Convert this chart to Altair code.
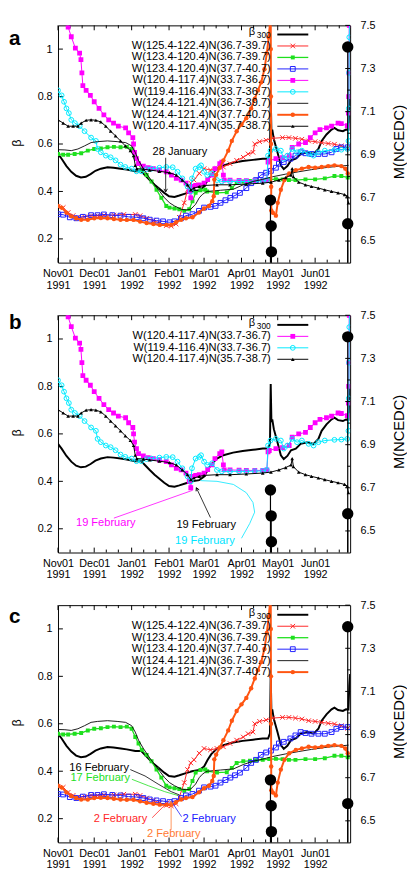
import altair as alt
import pandas as pd

START = pd.Timestamp("1991-11-01")   # day 0 of every day array below
FONT = "Liberation Sans"
W, H = 298, 242

# ---------------- data: days since 1 Nov 1991 and beta values ----------------
B300_DAY = [0, 3, 7, 11, 15, 19, 23, 27, 31, 35.5, 41, 46, 52, 57, 64, 69, 72, 76, 80, 84, 88, 92, 96.5, 100.5, 106, 111, 117, 121, 124, 127, 131.7, 137, 145, 153, 161.5, 169.6, 174, 175.6, 176.2, 176.8, 177.5, 178.8, 181.8, 184.6, 187, 190, 193, 197, 201, 206.6, 211.7, 215.7, 218.4, 222.4, 226.6, 229, 232, 236, 238.6, 240.6, 241.3, 242]
B300_VAL = [0.558, 0.538, 0.507, 0.483, 0.466, 0.459, 0.462, 0.473, 0.487, 0.496, 0.502, 0.500, 0.496, 0.492, 0.485, 0.485, 0.469, 0.448, 0.428, 0.411, 0.394, 0.380, 0.377, 0.383, 0.392, 0.400, 0.405, 0.420, 0.448, 0.472, 0.496, 0.510, 0.521, 0.528, 0.533, 0.538, 0.538, 0.560, 0.810, 0.650, 0.661, 0.620, 0.565, 0.510, 0.494, 0.507, 0.531, 0.538, 0.558, 0.565, 0.558, 0.579, 0.613, 0.640, 0.661, 0.668, 0.658, 0.654, 0.661, 0.660, 0.760, 0.810]

RED_DAY = [0, 4.3, 8.4, 12.5, 16.5, 22, 27.4, 32.8, 38, 46.3, 54.5, 64, 68, 73.4, 79, 84.3, 89.7, 93.8, 97.8, 100.5, 104.6, 107.3, 110, 112.7, 117, 121, 126.3, 131.7, 137, 142.5, 148, 153.5, 157.5, 161.5, 163, 167, 172.4, 177.8, 186, 191.3, 196.7, 202, 207.6, 213, 218.4, 223.8, 229, 234.7, 240]
RED_VAL = [0.336, 0.332, 0.311, 0.298, 0.291, 0.293, 0.298, 0.298, 0.300, 0.300, 0.303, 0.303, 0.298, 0.287, 0.277, 0.267, 0.256, 0.254, 0.263, 0.291, 0.352, 0.407, 0.435, 0.448, 0.476, 0.496, 0.490, 0.496, 0.503, 0.517, 0.531, 0.544, 0.558, 0.565, 0.600, 0.610, 0.616, 0.624, 0.627, 0.627, 0.624, 0.620, 0.613, 0.610, 0.606, 0.602, 0.599, 0.592, 0.581]

GREEN_DAY = [0, 4.3, 8.4, 13.8, 19.2, 24.7, 30, 35.5, 41, 46.3, 51.8, 57, 61, 64, 66.7, 69.4, 73.4, 77.5, 81.6, 85.6, 89.7, 92.4, 96.5, 100.5, 104.6, 108.7, 111.4, 114, 118, 122, 123.6, 131.7, 139.8, 144, 148, 153.5, 159, 164, 169.6, 175, 180.5, 186, 191.3, 196.7, 205, 213, 221, 229, 234.7, 240]
GREEN_VAL = [0.558, 0.555, 0.555, 0.558, 0.561, 0.572, 0.579, 0.581, 0.586, 0.588, 0.586, 0.588, 0.579, 0.544, 0.517, 0.490, 0.469, 0.442, 0.407, 0.373, 0.339, 0.332, 0.328, 0.325, 0.318, 0.325, 0.359, 0.394, 0.405, 0.407, 0.400, 0.394, 0.396, 0.414, 0.435, 0.442, 0.444, 0.446, 0.448, 0.451, 0.452, 0.451, 0.448, 0.448, 0.451, 0.451, 0.455, 0.465, 0.465, 0.459]

BLUE_DAY = [0, 4.3, 9.8, 15.2, 20.6, 27.4, 32.8, 38, 45, 51.8, 58.5, 65.3, 70.7, 76, 81.6, 87, 92.4, 96.5, 101.9, 106, 111.4, 116.8, 121, 126.3, 130.5, 134.6, 138.7, 142.8, 146.6, 150.7, 156, 160, 164, 168, 172.4, 176.4, 180.5, 183, 187, 192.5, 196.7, 201, 205, 210, 215.7, 221, 226.6, 230.6, 234.7, 240]
BLUE_VAL = [0.304, 0.302, 0.291, 0.287, 0.293, 0.300, 0.300, 0.303, 0.300, 0.298, 0.293, 0.291, 0.287, 0.281, 0.277, 0.274, 0.270, 0.274, 0.287, 0.298, 0.304, 0.318, 0.332, 0.335, 0.339, 0.352, 0.363, 0.373, 0.383, 0.394, 0.414, 0.435, 0.448, 0.469, 0.479, 0.487, 0.500, 0.517, 0.524, 0.538, 0.551, 0.565, 0.561, 0.558, 0.558, 0.558, 0.565, 0.579, 0.586, 0.586]

MAG_DAY = [0, 8.4, 11, 14.4, 17.9, 19, 19.8, 20.6, 23.3, 26.8, 30, 34, 38, 42, 46, 50, 56, 58.5, 62, 62.6, 63.4, 65, 66.7, 70.7, 74.8, 79, 84, 89.7, 94, 98, 102, 106, 108.7, 110, 111, 114, 117, 121, 124, 127.6, 130, 134, 135.7, 137, 137.7, 142.5, 150, 156, 163, 169.6, 173, 174, 175, 180.5, 186, 191.5, 194, 199.4, 205, 209, 213, 217, 222.4, 226.6, 232, 234.7, 239.6, 240.6, 240.8, 241, 241.1, 241.3, 241.5]
MAG_VAL = [1.25, 1.093, 1.052, 1.004, 0.983, 0.956, 0.900, 0.846, 0.826, 0.805, 0.778, 0.750, 0.723, 0.702, 0.688, 0.675, 0.668, 0.647, 0.627, 0.600, 0.565, 0.538, 0.517, 0.507, 0.500, 0.496, 0.490, 0.483, 0.469, 0.455, 0.448, 0.435, 0.400, 0.373, 0.421, 0.425, 0.428, 0.435, 0.450, 0.469, 0.496, 0.517, 0.524, 0.469, 0.448, 0.448, 0.447, 0.446, 0.446, 0.446, 0.448, 0.524, 0.530, 0.538, 0.542, 0.551, 0.586, 0.600, 0.606, 0.627, 0.647, 0.661, 0.668, 0.675, 0.688, 0.686, 0.677, 0.730, 0.800, 0.900, 1.000, 1.100, 1.200]

CYAN_DAY = [0, 3, 5, 7, 9, 11, 14, 18, 22, 27.4, 31.4, 32.8, 35.5, 39.6, 43.6, 47.7, 51.8, 55.8, 61, 65, 69, 73.4, 77.5, 84, 89.7, 95, 99, 103, 107.3, 110, 111, 114, 117, 118.5, 121, 123.6, 127.6, 131.7, 135.7, 142.5, 150, 156, 163, 169.6, 173, 174, 176, 180.5, 184.6, 187, 190, 194, 198, 202, 207.6, 211.7, 215.7, 221, 229, 234.7, 239.6, 240.6, 240.9, 241.1, 241.3, 241.6]
CYAN_VAL = [0.826, 0.805, 0.778, 0.750, 0.730, 0.702, 0.688, 0.675, 0.654, 0.627, 0.613, 0.579, 0.565, 0.551, 0.544, 0.531, 0.513, 0.503, 0.496, 0.485, 0.485, 0.494, 0.496, 0.500, 0.503, 0.502, 0.483, 0.455, 0.421, 0.400, 0.455, 0.496, 0.503, 0.510, 0.483, 0.469, 0.476, 0.448, 0.442, 0.442, 0.442, 0.442, 0.443, 0.444, 0.448, 0.551, 0.572, 0.579, 0.572, 0.538, 0.551, 0.579, 0.565, 0.572, 0.558, 0.551, 0.565, 0.572, 0.575, 0.576, 0.579, 0.613, 0.750, 0.900, 1.050, 1.200]

THIN_DAY = [0, 5.7, 11, 16.5, 22, 27.4, 32.8, 41, 49, 56, 61, 64, 66.7, 70.7, 74.8, 79, 84.3, 88.3, 92.4, 96.5, 102, 106, 110, 114, 117, 119.5, 122, 123.6, 134.6, 145.5, 153.4, 161.5, 169.6, 177.8, 188.6, 199.4, 210, 221, 232, 240.7]
THIN_VAL = [0.576, 0.575, 0.572, 0.579, 0.592, 0.606, 0.610, 0.613, 0.610, 0.606, 0.592, 0.565, 0.531, 0.496, 0.465, 0.435, 0.400, 0.373, 0.352, 0.339, 0.325, 0.322, 0.325, 0.346, 0.373, 0.387, 0.396, 0.400, 0.405, 0.410, 0.428, 0.442, 0.451, 0.462, 0.473, 0.483, 0.492, 0.500, 0.506, 0.510]

ORANGE_DAY = [0, 3, 7, 11, 15, 19.2, 24.7, 30, 35.5, 41, 46.3, 51.8, 57, 62.6, 68, 73.4, 79, 84.3, 89.7, 93.8, 97.8, 102, 106, 111.4, 116.8, 121, 125, 127.8, 129, 129.5, 131, 134, 137, 141, 144, 148, 152, 156, 160, 163, 165.6, 168.3, 171, 173, 174.5, 175.6, 176.2, 176.3, 176.4, 176.5, 176.6, 176.7, 178, 180.5, 182, 184.6, 187.5, 191.5, 197, 202, 207.6, 213, 218.4, 223.8, 229, 234.7, 238, 240]
ORANGE_VAL = [0.339, 0.332, 0.311, 0.295, 0.287, 0.281, 0.281, 0.287, 0.288, 0.287, 0.284, 0.281, 0.280, 0.280, 0.273, 0.267, 0.263, 0.259, 0.259, 0.259, 0.270, 0.281, 0.287, 0.291, 0.311, 0.328, 0.339, 0.359, 0.380, 0.450, 0.470, 0.500, 0.531, 0.572, 0.613, 0.654, 0.682, 0.709, 0.750, 0.791, 0.826, 0.860, 0.915, 0.983, 1.050, 1.107, 1.300, 1.000, 0.800, 0.600, 0.420, 0.320, 0.310, 0.298, 0.352, 0.407, 0.448, 0.476, 0.490, 0.496, 0.503, 0.500, 0.503, 0.507, 0.510, 0.507, 0.496, 0.476]

TRI_DAY = [0, 4.3, 8.4, 12.5, 16.5, 19.2, 23.3, 27.4, 31.4, 35.5, 39.6, 43.6, 47.7, 51.8, 55.8, 60, 62.6, 64, 65.3, 70.7, 76, 84, 92.4, 98, 103, 107.3, 110, 112.7, 117, 121, 131.7, 142.5, 156, 169.6, 176.4, 183, 188.6, 193, 194, 195, 199.4, 205, 210, 215.7, 221, 226.6, 232, 237.4, 239.6, 240.6]
TRI_VAL = [0.702, 0.688, 0.675, 0.675, 0.675, 0.688, 0.700, 0.702, 0.700, 0.693, 0.675, 0.654, 0.634, 0.613, 0.592, 0.572, 0.551, 0.510, 0.496, 0.494, 0.490, 0.485, 0.479, 0.469, 0.448, 0.428, 0.407, 0.414, 0.421, 0.425, 0.428, 0.428, 0.431, 0.435, 0.439, 0.448, 0.458, 0.469, 0.496, 0.462, 0.439, 0.428, 0.421, 0.414, 0.407, 0.400, 0.394, 0.387, 0.380, 0.352]

# earthquakes (right axis, magnitude NCEDC)
QUAKE_DAY = [176, 176.6, 176.8, 240, 240]
QUAKE_M = [6.69, 6.57, 6.45, 7.40, 6.58]

# axis ticks
MONTHS = [(1991, 11), (1991, 12), (1992, 1), (1992, 2), (1992, 3), (1992, 4), (1992, 5), (1992, 6)]
BETA_TICKS = [0.2, 0.4, 0.6, 0.8, 1.0]
M_TICKS = [6.5, 6.7, 6.9, 7.1, 7.3, 7.5]
M_MINOR = [6.6, 6.8, 7.0, 7.2, 7.4]

XPATH = "M-1,-1L1,1M-1,1L1,-1"
ARROW = "M-0.55,-1L0,0L0.55,-1"

SERIES = {
    "b300": dict(day=B300_DAY, val=B300_VAL, label=("β", "300"), color="#000000", lw=2.0),
    "red": dict(day=RED_DAY, val=RED_VAL, label="W(125.4-122.4)N(36.7-39.7)", color="#ff2626", lw=1.0,
                shape=XPATH, filled=False, size=22, sw=1.0),
    "green": dict(day=GREEN_DAY, val=GREEN_VAL, label="W(123.4-120.4)N(36.7-39.7)", color="#1ee01e", lw=1.3,
                  shape="square", filled=True, size=16),
    "blue": dict(day=BLUE_DAY, val=BLUE_VAL, label="W(123.4-120.4)N(37.7-40.7)", color="#2020ff", lw=1.0,
                 shape="square", filled=False, size=24, sw=1.0),
    "magenta": dict(day=MAG_DAY, val=MAG_VAL, label="W(120.4-117.4)N(33.7-36.7)", color="#ff00ff", lw=1.0,
                    shape="square", filled=True, size=24),
    "cyan": dict(day=CYAN_DAY, val=CYAN_VAL, label="W(119.4-116.4)N(33.7-36.7)", color="#00eaff", lw=1.0,
                 shape="circle", filled=False, size=24, sw=1.0),
    "thin": dict(day=THIN_DAY, val=THIN_VAL, label="W(124.4-121.4)N(36.7-39.7)", color="#000000", lw=0.9),
    "orange": dict(day=ORANGE_DAY, val=ORANGE_VAL, label="W(124.4-121.4)N(37.7-40.7)", color="#ff5511", lw=2.0,
                   shape="circle", filled=True, size=20),
    "tri": dict(day=TRI_DAY, val=TRI_VAL, label="W(120.4-117.4)N(35.7-38.7)", color="#000000", lw=1.0,
                shape="triangle-up", filled=True, size=14),
}

# annotations: (text, day, beta, colour) and ([(day, beta), ...], colour, arrow angle or None)
ANN_A = dict(texts=[("28 January", 101, 0.567, "#000000")],
             lines=[([(89.2, 0.542), (89.2, 0.398)], "#000000", 0)])
ANN_B = dict(texts=[("19 February", 39.6, 0.223, "#ff00ff"),
                    ("19 February", 122.8, 0.215, "#000000"),
                    ("19 February", 121.7, 0.149, "#00e5ff")],
             lines=[([(46.3, 0.245), (111.4, 0.362)], "#ff00ff", None),
                    ([(126.3, 0.247), (114.6, 0.373)], "#000000", 155),
                    ([(152, 0.16), (158.8, 0.222), (162.9, 0.27), (161.5, 0.311), (156, 0.352),
                      (145.3, 0.387), (131.7, 0.40), (118.1, 0.403)], "#00e5ff", None)])
ANN_C = dict(texts=[("16 February", 34.1, 0.414, "#000000"),
                    ("17 February", 35.0, 0.370, "#1ee01e"),
                    ("2 February", 51.8, 0.198, "#ff2626"),
                    ("2 February", 125.2, 0.198, "#2020ff"),
                    ("2 February", 95.9, 0.136, "#ff7a33")],
             lines=[([(59.9, 0.407), (72.1, 0.38), (82.9, 0.346), (93.7, 0.314), (100.6, 0.30)], "#000000", None),
                    ([(61.2, 0.366), (74.8, 0.339), (88.4, 0.314), (99.2, 0.298)], "#1ee01e", None),
                    ([(78, 0.204), (92.4, 0.277)], "#ff2626", None),
                    ([(102.4, 0.208), (94.3, 0.27)], "#2020ff", None),
                    ([(93.7, 0.153), (93.7, 0.273)], "#ff7a33", 180)])


def dates(days):
    return [START + pd.Timedelta(days=float(d)) for d in days]


X_DOMAIN = [alt.DateTime(year=1991, month=11, date=1), alt.DateTime(year=1992, month=6, date=30)]
X_AXIS = alt.Axis(values=[alt.DateTime(year=y, month=m, date=1) for (y, m) in MONTHS],
                  labelExpr="[timeFormat(datum.value, '%b%d'), timeFormat(datum.value, '%Y')]",
                  tickSize=0, domain=False, grid=False, title=None, labelPadding=5,
                  labelFont=FONT, labelFontSize=11, labelColor="black", labelLineHeight=12,
                  labelOverlap=False, labelFlush=False, labelBound=False)
B_AXIS = alt.Axis(values=BETA_TICKS, format="~g", orient="left", tickSize=0, domain=False, grid=False,
                  title=None, labelPadding=6, labelFont=FONT, labelFontSize=11, labelColor="black")
M_AXIS = alt.Axis(values=M_TICKS, format=".1f", orient="right", tickSize=0, domain=False, grid=False,
                  title=None, labelPadding=10, labelFont=FONT, labelFontSize=11, labelColor="black")


def xenc():
    return alt.X("date:T", scale=alt.Scale(domain=X_DOMAIN), axis=X_AXIS)


def ybeta():
    return alt.Y("beta:Q", scale=alt.Scale(domain=[0.1, 1.1], nice=False, zero=False), axis=B_AXIS)


def ym():
    return alt.Y("m:Q", scale=alt.Scale(domain=[6.4, 7.5], nice=False, zero=False), axis=M_AXIS)


def tick_layers():
    major = pd.DataFrame({"date": [pd.Timestamp(y, m, 1) for (y, m) in MONTHS]})
    minor = pd.DataFrame({"date": [pd.Timestamp(y, m, d) for (y, m) in MONTHS for d in (11, 21)]})
    bt = pd.DataFrame({"beta": BETA_TICKS})
    out = []
    for df, ln in ((major, 5), (minor, 3)):
        out.append(alt.Chart(df).mark_rule(color="black", strokeWidth=1).encode(
            x=xenc(), y=alt.value(H), y2=alt.value(H - ln)))
        out.append(alt.Chart(df).mark_rule(color="black", strokeWidth=1).encode(
            x=xenc(), y=alt.value(0), y2=alt.value(ln)))
    out.append(alt.Chart(bt).mark_rule(color="black", strokeWidth=1).encode(
        y=ybeta(), x=alt.value(0), x2=alt.value(5)))
    return out


def series_layers(key):
    s = SERIES[key]
    df = pd.DataFrame({"date": dates(s["day"]), "beta": s["val"]})
    out = [alt.Chart(df).mark_line(color=s["color"], strokeWidth=s["lw"], clip=True).encode(x=xenc(), y=ybeta())]
    if s.get("shape"):
        out.append(alt.Chart(df).mark_point(shape=s["shape"], filled=s["filled"], size=s["size"], color=s["color"],
                                            strokeWidth=s.get("sw", 1), opacity=1, clip=True)
                   .encode(x=xenc(), y=ybeta()))
    return out


def ann_layers(ann):
    out = []
    for pts, col, head in ann["lines"]:
        df = pd.DataFrame({"date": dates([p[0] for p in pts]), "beta": [p[1] for p in pts], "i": list(range(len(pts)))})
        out.append(alt.Chart(df).mark_line(color=col, strokeWidth=0.8).encode(x=xenc(), y=ybeta(), order="i:Q"))
        if head is not None:
            out.append(alt.Chart(df.iloc[[-1]]).mark_point(shape=ARROW, filled=False, size=40, color=col,
                                                          strokeWidth=0.9, angle=head, opacity=1)
                       .encode(x=xenc(), y=ybeta()))
    for txt, d, b, col in ann["texts"]:
        df = pd.DataFrame({"date": dates([d]), "beta": [b], "t": [txt]})
        out.append(alt.Chart(df).mark_text(font=FONT, fontSize=11.3, color=col, align="center", baseline="middle")
                   .encode(x=xenc(), y=ybeta(), text="t:N"))
    return out


LEG_TX, LEG_X1, LEG_X2 = 217, 223.7, 255.3


def legend_layers(keys, y0):
    yl = alt.Y("row:Q", scale=alt.Scale(domain=[0, 10], range=[y0, y0 + 117]), axis=None)
    out = []
    for i, key in enumerate(keys):
        s = SERIES[key]
        df = pd.DataFrame({"row": [i]})
        if key == "b300":
            out.append(alt.Chart(df).mark_text(text=s["label"][0], font=FONT, fontSize=11.3, align="right",
                                               baseline="middle", dy=-2).encode(x=alt.value(LEG_TX - 16), y=yl))
            out.append(alt.Chart(df).mark_text(text=s["label"][1], font=FONT, fontSize=8.5, align="right",
                                               baseline="middle", dy=1).encode(x=alt.value(LEG_TX), y=yl))
        else:
            out.append(alt.Chart(df).mark_text(text=s["label"], font=FONT, fontSize=11.3, align="right",
                                               baseline="middle").encode(x=alt.value(LEG_TX), y=yl))
        out.append(alt.Chart(df).mark_rule(color=s["color"], strokeWidth=s["lw"]).encode(
            x=alt.value(LEG_X1), x2=alt.value(LEG_X2), y=yl))
        if s.get("shape"):
            out.append(alt.Chart(df).mark_point(shape=s["shape"], filled=s["filled"], size=s["size"],
                                                color=s["color"], strokeWidth=s.get("sw", 1), opacity=1)
                       .encode(x=alt.value((LEG_X1 + LEG_X2) / 2), y=yl))
    return out


def panel(keys, letter, letter_y, leg_y0, ann):
    beta_group = alt.layer(*(tick_layers() + [l for k in keys for l in series_layers(k)] + ann_layers(ann)))

    qdf = pd.DataFrame({"date": dates(QUAKE_DAY), "m": QUAKE_M})
    mt = pd.DataFrame({"m": M_TICKS})
    mm = pd.DataFrame({"m": M_MINOR})
    m_group = alt.layer(
        alt.Chart(qdf).mark_rule(color="black", strokeWidth=1.2).encode(x=xenc(), y=ym(), y2=alt.value(H)),
        alt.Chart(qdf).mark_circle(color="black", size=135, opacity=1).encode(x=xenc(), y=ym()),
        alt.Chart(mt).mark_rule(color="black", strokeWidth=1).encode(y=ym(), x=alt.value(W), x2=alt.value(W - 5)),
        alt.Chart(mm).mark_rule(color="black", strokeWidth=1).encode(y=ym(), x=alt.value(W), x2=alt.value(W - 3)),
    )

    one = pd.DataFrame({"k": [0]})
    titles = [
        alt.Chart(one).mark_text(text=letter, font=FONT, fontSize=21, fontWeight="bold", align="left",
                                 baseline="alphabetic").encode(x=alt.value(-50), y=alt.value(letter_y)),
        alt.Chart(one).mark_text(text="β", font=FONT, fontSize=13, angle=270, align="center",
                                 baseline="middle").encode(x=alt.value(-42), y=alt.value(120)),
        alt.Chart(one).mark_text(text="M(NCEDC)", font=FONT, fontSize=15, angle=270, align="center",
                                 baseline="middle").encode(x=alt.value(W + 49.5), y=alt.value(119)),
    ]
    leg_group = alt.layer(*(legend_layers(keys, leg_y0) + titles))

    return alt.layer(beta_group, m_group, leg_group).resolve_scale(y="independent").properties(width=W, height=H)


pa = panel(["b300", "red", "green", "blue", "magenta", "cyan", "thin", "orange", "tri"], "a", 20, 9.3, ANN_A)
pb = panel(["b300", "magenta", "cyan", "tri"], "b", 14, 9.8, ANN_B)
pc = panel(["b300", "red", "green", "blue", "thin", "orange"], "c", 18.5, 9.8, ANN_C)

chart = (alt.vconcat(pa, pb, pc, spacing=53.7, bounds="flush")
         .properties(padding={"left": 0, "top": 2, "right": 0, "bottom": 0}, background="white")
         .configure_view(stroke="black", strokeWidth=1))

chart.save("out.html", embed_options={"renderer": "svg", "actions": False})
